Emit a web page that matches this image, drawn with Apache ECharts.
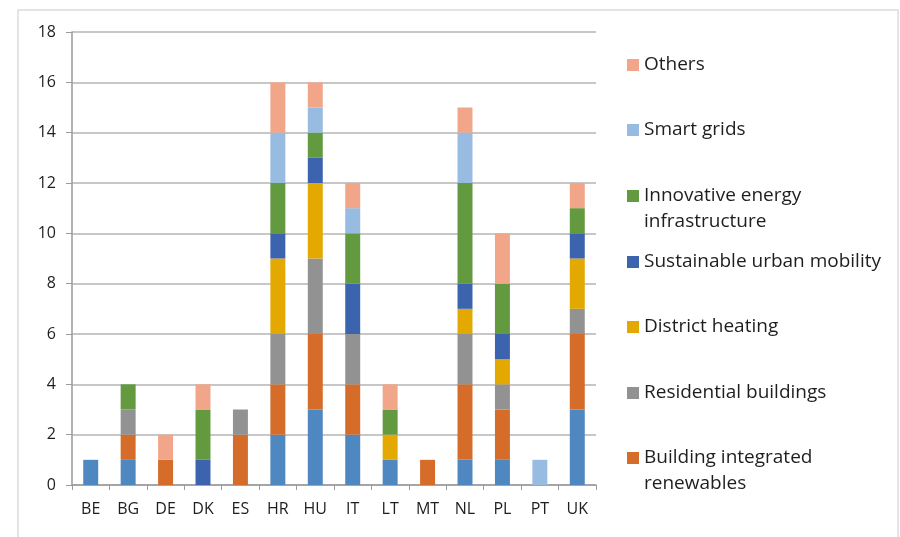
<!DOCTYPE html>
<html>
<head>
<meta charset="utf-8">
<script src="https://cdn.jsdelivr.net/npm/echarts@6/dist/echarts.min.js"></script>
<style>
    html, body {margin: 0; padding: 0; background: #fff;}
    #chartDiv {width: 900px; height: 537px;}
</style>
</head>
<body>
<div id="chartDiv"></div>
<script>
// 国家
var countries = ["BE", "BG", "DE", "DK", "ES", "HR", "HU", "IT", "LT", "MT", "NL", "PL", "PT", "UK"];

// 各系列（自下而上）
var energyEfficiency    = [1, 1, 0, 0, 0, 2, 3, 2, 1, 0, 1, 1, 0, 3];
var buildingRenewables  = [0, 1, 1, 0, 2, 2, 3, 2, 0, 1, 3, 2, 0, 3];
var residentialBuildings= [0, 1, 0, 0, 1, 2, 3, 2, 0, 0, 2, 1, 0, 1];
var districtHeating     = [0, 0, 0, 0, 0, 3, 3, 0, 1, 0, 1, 1, 0, 2];
var urbanMobility       = [0, 0, 0, 1, 0, 1, 1, 2, 0, 0, 1, 1, 0, 1];
var energyInfrastructure= [0, 1, 0, 2, 0, 2, 1, 2, 1, 0, 4, 2, 0, 1];
var smartGrids          = [0, 0, 0, 0, 0, 2, 1, 1, 0, 0, 2, 0, 1, 0];
var others              = [0, 0, 1, 1, 0, 2, 1, 1, 1, 0, 1, 2, 0, 1];

var yTicks = [0, 2, 4, 6, 8, 10, 12, 14, 16, 18];

var seriesList = [
    {name: "Energy efficiency", data: energyEfficiency, color: "#4f88c0"},
    {name: "Building integrated renewables", data: buildingRenewables, color: "#d56c2a"},
    {name: "Residential buildings", data: residentialBuildings, color: "#929292"},
    {name: "District heating", data: districtHeating, color: "#e3a900"},
    {name: "Sustainable urban mobility", data: urbanMobility, color: "#3b63ae"},
    {name: "Innovative energy infrastructure", data: energyInfrastructure, color: "#63993f"},
    {name: "Smart grids", data: smartGrids, color: "#98bbe1"},
    {name: "Others", data: others, color: "#f1a689"}
];

// 图例文字：第一行 / 第二行
var legendLines = {
    "Innovative energy infrastructure": ["Innovative energy", "infrastructure"],
    "Building integrated renewables": ["Building integrated", "renewables"]
};
// 图例第一行中心位置
var legendRows = [
    ["Others", 65],
    ["Smart grids", 130],
    ["Innovative energy infrastructure", 196],
    ["Sustainable urban mobility", 262],
    ["District heating", 327],
    ["Residential buildings", 393],
    ["Building integrated renewables", 458]
];

var legendFont = {fontFamily: "Open Sans", fontSize: 19, color: "#1e1e1e"};
var lineH = 27;

var chart = echarts.init(document.getElementById("chartDiv"));

var legends = [];
var extraText = [];
for (var i = 0; i < legendRows.length; i++) {
    var nm = legendRows[i][0];
    legends.push({
        data: [nm],
        left: 627,
        top: legendRows[i][1] - lineH / 2,
        padding: 0,
        orient: "vertical",
        icon: "rect",
        itemWidth: 12,
        itemHeight: 12,
        selectedMode: false,
        formatter: function (n) { return legendLines[n] ? legendLines[n][0] : n; },
        textStyle: {
            fontFamily: legendFont.fontFamily,
            fontSize: legendFont.fontSize,
            color: legendFont.color,
            lineHeight: lineH
        }
    });
    if (legendLines[nm]) {
        extraText.push({
            type: "text",
            left: 644,
            top: legendRows[i][1] + lineH / 2 - 1,
            silent: true,
            style: {
                text: legendLines[nm][1],
                font: legendFont.fontSize + "px " + legendFont.fontFamily,
                fill: legendFont.color,
                lineHeight: lineH
            }
        });
    }
}

var series = [];
for (var i = 0; i < seriesList.length; i++) {
    series.push({
        name: seriesList[i].name,
        type: "bar",
        stack: "total",
        barWidth: "40%",
        data: seriesList[i].data,
        itemStyle: {color: seriesList[i].color},
        emphasis: {disabled: true}
    });
}

var option = {
    animation: false,
    backgroundColor: "#fff",
    textStyle: {fontFamily: "Open Sans"},
    legend: legends,
    grid: {left: 72, right: 304, top: 32, bottom: 52, containLabel: false},
    graphic: [
        {type: "rect", shape: {x: 18, y: 10, width: 880, height: 540},
            style: {fill: "none", stroke: "#dcdcdc", lineWidth: 1.5}, silent: true}
    ].concat(extraText),
    xAxis: {
        type: "category",
        data: countries,
        axisLine: {lineStyle: {color: "#9a9a9a", width: 1.5}},
        axisTick: {show: true, alignWithLabel: false, length: 5, lineStyle: {color: "#9a9a9a"}},
        axisLabel: {color: "#1e1e1e", fontSize: 16, margin: 16}
    },
    yAxis: {
        type: "value",
        min: yTicks[0],
        max: yTicks[yTicks.length - 1],
        interval: 2,
        axisLine: {show: true, lineStyle: {color: "#9a9a9a", width: 1.5}},
        axisTick: {show: true, length: 6, lineStyle: {color: "#9a9a9a"}},
        axisLabel: {color: "#1e1e1e", fontSize: 16, margin: 16},
        splitLine: {lineStyle: {color: "#b4b4b4", width: 1.5}}
    },
    series: series
};
chart.setOption(option);
</script>
</body>
</html>
